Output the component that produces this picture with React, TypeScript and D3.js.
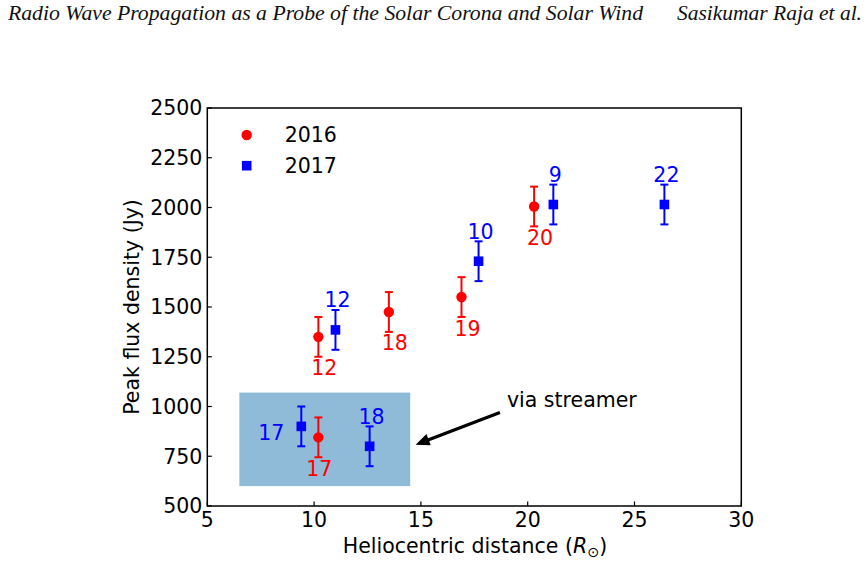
import React from "react";
import * as d3 from "d3";

// Observations: heliocentric distance (R_sun) vs peak flux density (Jy)
const series = ["2016", "2017"];
const colors = ["#ff0000", "#0000ff"];

const dist2016 = [10.2, 13.5, 16.9, 20.3, 10.2];
const flux2016 = [1350, 1475, 1550, 2005, 845];
const err2016 = [100, 100, 100, 100, 100];
const labels2016 = ["12", "18", "19", "20", "17"];
const place2016 = ["below", "below", "below", "below", "below"];

const dist2017 = [11.0, 17.7, 21.2, 26.4, 9.4, 12.6];
const flux2017 = [1385, 1730, 2015, 2015, 900, 800];
const err2017 = [100, 100, 100, 100, 100, 100];
const labels2017 = ["12", "10", "9", "22", "17", "18"];
const place2017 = ["above", "above", "above", "above", "left", "above"];

const xTicks = [5, 10, 15, 20, 25, 30];
const yTicks = [500, 750, 1000, 1250, 1500, 1750, 2000, 2250, 2500];

// Shaded region of the streamer crossings
const streamerX = [6.5, 14.5];
const streamerY = [600, 1070];
const arrowFrom = [18.7, 970];
const arrowTo = [14.75, 808];
const arrowText = "via streamer";

const W = 868;
const H = 564;
const FONT = "'DejaVu Sans', sans-serif";
const FS = 20.5;

export default function App() {
  const x = d3.scaleLinear().domain([5, 30]).range([207.3, 741.3]);
  const y = d3.scaleLinear().domain([500, 2500]).range([506, 108]);

  const groups = [
    { d: dist2016, f: flux2016, e: err2016, l: labels2016, p: place2016, shape: "circle" },
    { d: dist2017, f: flux2017, e: err2017, l: labels2017, p: place2017, shape: "square" },
  ];

  const labelPos = (place: string, label: string, cx: number, cy: number) => {
    if (place === "left") return { lx: cx - 30, ly: cy + 6 };
    if (place === "above") return { lx: cx + 2, ly: cy - 30 };
    const dx = label === "17" ? 1 : 6;
    return { lx: cx + dx, ly: cy + 31 };
  };

  // arrow geometry (filled shaft + head)
  const ax0 = x(arrowFrom[0]);
  const ay0 = y(arrowFrom[1]);
  const ax1 = x(arrowTo[0]);
  const ay1 = y(arrowTo[1]);
  const ang = Math.atan2(ay1 - ay0, ax1 - ax0);
  const len = Math.hypot(ax1 - ax0, ay1 - ay0);
  const headLen = 14;
  const headW = 6;
  const shaftW = 1.6;
  const arrowPts: [number, number][] = [
    [0, -shaftW],
    [len - headLen, -shaftW],
    [len - headLen, -headW],
    [len, 0],
    [len - headLen, headW],
    [len - headLen, shaftW],
    [0, shaftW],
  ];
  const arrowPath = arrowPts
    .map(([u, v]) => {
      const px = ax0 + u * Math.cos(ang) - v * Math.sin(ang);
      const py = ay0 + u * Math.sin(ang) + v * Math.cos(ang);
      return `${px},${py}`;
    })
    .join(" ");

  const marker = (shape: string, cx: number, cy: number, color: string) =>
    shape === "circle" ? (
      <circle cx={cx} cy={cy} r={5.2} fill={color} />
    ) : (
      <rect x={cx - 4.8} y={cy - 4.8} width={9.6} height={9.6} fill={color} />
    );

  return (
    <svg
      width={W}
      height={H}
      style={{ position: "absolute", left: 0, top: 0, background: "#fff" }}
      fontFamily={FONT}
    >
      <rect width={W} height={H} fill="#fff" />
      {/* running header */}
      <text
        x={8}
        y={20}
        fontFamily="'Liberation Serif', serif"
        fontStyle="italic"
        fontSize={20}
        textLength={635}
        lengthAdjust="spacingAndGlyphs"
        fill="#111"
      >
        Radio Wave Propagation as a Probe of the Solar Corona and Solar Wind
      </text>
      <text
        x={677}
        y={20}
        fontFamily="'Liberation Serif', serif"
        fontStyle="italic"
        fontSize={20}
        textLength={185}
        lengthAdjust="spacingAndGlyphs"
        fill="#111"
      >
        Sasikumar Raja et al.
      </text>

      {/* streamer region */}
      <rect
        x={x(streamerX[0])}
        y={y(streamerY[1])}
        width={x(streamerX[1]) - x(streamerX[0])}
        height={y(streamerY[0]) - y(streamerY[1])}
        fill="#8fbbd9"
      />

      {/* data */}
      {groups.map((g, si) => (
        <g key={si}>
          {g.d.map((dv, i) => {
            const cx = x(dv);
            const cy = y(g.f[i]);
            const top = y(g.f[i] + g.e[i]);
            const bot = y(g.f[i] - g.e[i]);
            const c = colors[si];
            const { lx, ly } = labelPos(g.p[i], g.l[i], cx, cy);
            return (
              <g key={i}>
                <line x1={cx} x2={cx} y1={top} y2={bot} stroke={c} strokeWidth={2} />
                <line x1={cx - 4} x2={cx + 4} y1={top} y2={top} stroke={c} strokeWidth={2} />
                <line x1={cx - 4} x2={cx + 4} y1={bot} y2={bot} stroke={c} strokeWidth={2} />
                {marker(g.shape, cx, cy, c)}
                <text
                  x={lx}
                  y={ly + FS * 0.365}
                  textAnchor="middle"
                  fontSize={FS}
                  fill={c}
                >
                  {g.l[i]}
                </text>
              </g>
            );
          })}
        </g>
      ))}

      {/* annotation */}
      <polygon points={arrowPath} fill="#000" />
      <text x={x(arrowFrom[0]) + 7} y={400 + FS * 0.365} fontSize={FS} fill="#000">
        {arrowText}
      </text>

      {/* axes frame */}
      <rect
        x={x(5)}
        y={y(2500)}
        width={x(30) - x(5)}
        height={y(500) - y(2500)}
        fill="none"
        stroke="#000"
        strokeWidth={1.5}
      />
      {xTicks.map((t) => (
        <g key={"xt" + t}>
          <line x1={x(t)} x2={x(t)} y1={y(500)} y2={y(500) - 4.5} stroke="#000" strokeWidth={1.2} />
          <text x={x(t)} y={527} textAnchor="middle" fontSize={FS} fill="#000">
            {t}
          </text>
        </g>
      ))}
      {yTicks.map((t) => (
        <g key={"yt" + t}>
          <line x1={x(5)} x2={x(5) + 4.5} y1={y(t)} y2={y(t)} stroke="#000" strokeWidth={1.2} />
          <text x={x(5) - 5} y={y(t) + FS * 0.365} textAnchor="end" fontSize={FS} fill="#000">
            {t}
          </text>
        </g>
      ))}

      {/* axis labels */}
      <text x={475} y={553} textAnchor="middle" fontSize={FS} fill="#000">
        Heliocentric distance (
        <tspan fontStyle="italic">R</tspan>
        <tspan fontSize={FS * 0.7} dy={4}>⊙</tspan>
        <tspan dy={-4}>)</tspan>
      </text>
      <text
        transform={`translate(139,${(y(500) + y(2500)) / 2}) rotate(-90)`}
        textAnchor="middle"
        fontSize={FS}
        fill="#000"
      >
        Peak flux density (Jy)
      </text>

      {/* legend */}
      {series.map((s, i) => (
        <g key={s} transform={`translate(246.7,${135 + i * 30.7})`}>
          {i === 0 ? (
            <circle cx={0} cy={0} r={5.2} fill={colors[i]} />
          ) : (
            <rect x={-4.8} y={-4.8} width={9.6} height={9.6} fill={colors[i]} />
          )}
          <text x={38} y={FS * 0.365} fontSize={FS} fill="#000">
            {s}
          </text>
        </g>
      ))}
    </svg>
  );
}
